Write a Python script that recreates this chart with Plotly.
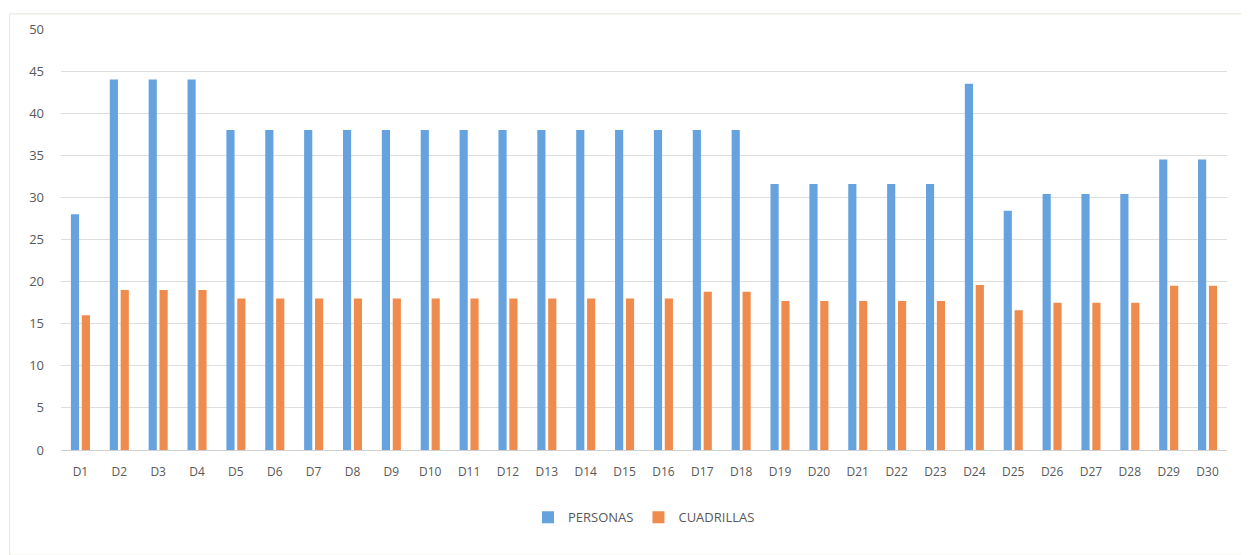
import plotly.graph_objects as go

dias = [f"D{i}" for i in range(1, 31)]
personas = [28, 44, 44, 44, 38, 38, 38, 38, 38, 38, 38, 38, 38, 38, 38, 38, 38, 38,
            31.6, 31.6, 31.6, 31.6, 31.6, 43.5, 28.4, 30.4, 30.4, 30.4, 34.5, 34.5]
cuadrillas = [16, 19, 19, 19, 18, 18, 18, 18, 18, 18, 18, 18, 18, 18, 18, 18, 18.8, 18.8,
              17.7, 17.7, 17.7, 17.7, 17.7, 19.6, 16.6, 17.5, 17.5, 17.5, 19.5, 19.5]
y_ticks = [0, 5, 10, 15, 20, 25, 30, 35, 40, 45, 50]

_BLUE = "#66A3DE"
_ORANGE = "#EF8B4C"
_GRID = "#DEDEDE"
_INK = "#595959"

fig = go.Figure()
fig.add_trace(go.Bar(x=dias, y=personas, name="PERSONAS", marker=dict(color=_BLUE, line_width=0)))
fig.add_trace(go.Bar(x=dias, y=cuadrillas, name="CUADRILLAS", marker=dict(color=_ORANGE, line_width=0)))

# thin frame like the Excel chart area
fig.add_shape(type="rect", xref="paper", yref="paper", x0=-0.044, x1=1.018, y0=-0.25, y1=1.036,
              line=dict(color="#E6E6D8", width=1))

fig.update_layout(
    barmode="group",
    bargap=0.44,
    bargroupgap=0.25,
    plot_bgcolor="white",
    paper_bgcolor="white",
    font=dict(family="Open Sans, Noto Sans, sans-serif", size=12, color=_INK),
    xaxis=dict(showgrid=False, zeroline=False, showline=True, linecolor="#D0D0D0",
               tickfont=dict(size=12, color=_INK), ticks="", ticklabelstandoff=11),
    yaxis=dict(range=[0, 50], tickvals=y_ticks, showgrid=True, gridcolor=_GRID,
               zeroline=False, showline=False, ticks="", ticklabelstandoff=16,
               tickfont=dict(size=13, color=_INK)),
    legend=dict(orientation="h", x=0.5, xanchor="center", y=-0.16, yanchor="middle",
                font=dict(size=13, color=_INK), traceorder="normal", itemwidth=30),
    margin=dict(l=53, r=30, t=16, b=113),
    width=1249,
    height=555,
)

fig.write_html("out.html")
